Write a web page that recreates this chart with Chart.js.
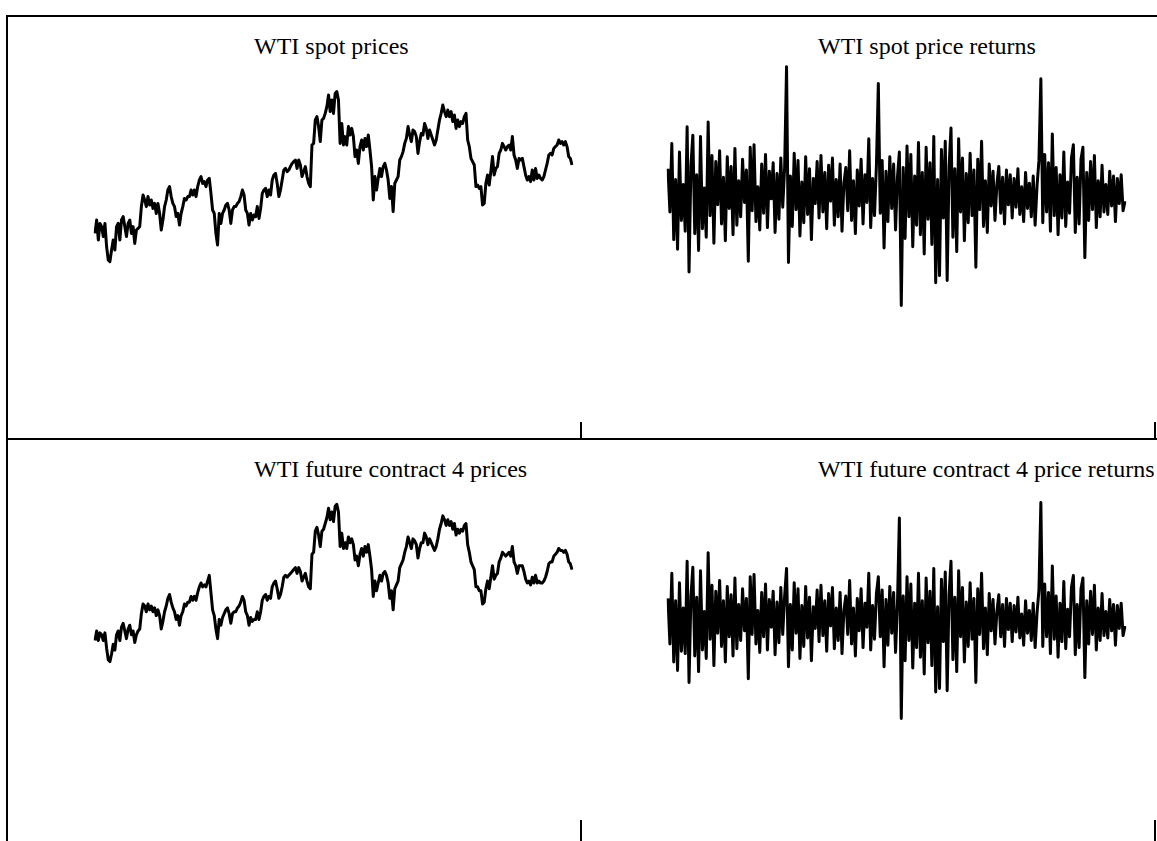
<!DOCTYPE html>
<html>
<head>
<meta charset="utf-8">
<script src="https://cdn.jsdelivr.net/npm/chart.js@4/dist/chart.umd.min.js"></script>
<style>
  html, body { margin: 0; padding: 0; background: #fff; }
  body { width: 1157px; height: 841px; position: relative; overflow: hidden; }
  canvas { position: absolute; }
  .rule { position: absolute; background: #000; }
  .ttl { position: absolute; font-family: "Liberation Serif", "Times New Roman", serif; font-size: 24px; line-height: 24px; color: #000; white-space: nowrap; }
</style>
</head>
<body>
<div class="rule" style="left:7px;top:15px;width:1150px;height:2px"></div>
<div class="rule" style="left:6px;top:15px;width:2px;height:826px"></div>
<div class="rule" style="left:7px;top:438px;width:1150px;height:2px"></div>
<div class="rule" style="left:580px;top:422px;width:2px;height:17px"></div>
<div class="rule" style="left:1154px;top:422px;width:2px;height:17px"></div>
<div class="rule" style="left:580px;top:820px;width:2px;height:21px"></div>
<div class="rule" style="left:1154px;top:820px;width:2px;height:21px"></div>

<div class="ttl" id="t1" style="left:254px;top:34px"></div>
<div class="ttl" id="t2" style="left:818px;top:34px"></div>
<div class="ttl" id="t3" style="left:254px;top:457px"></div>
<div class="ttl" id="t4" style="left:818px;top:457px"></div>

<canvas id="c1" width="572" height="420" style="left:8px;top:17px"></canvas>
<canvas id="c2" width="576" height="420" style="left:581px;top:17px"></canvas>
<canvas id="c3" width="572" height="401" style="left:8px;top:440px"></canvas>
<canvas id="c4" width="576" height="401" style="left:581px;top:440px"></canvas>

<script>
const titles = ["WTI spot prices", "WTI spot price returns", "WTI future contract 4 prices", "WTI future contract 4 price returns"];

const spotPrices = [
33.3, 40, 30, 38.3, 36.7, 31.7, 38.3, 26.7, 20, 19.2,
25, 30, 25, 36.7, 38.3, 30, 40, 41.7, 36.7, 31.7,
38.3, 40, 33.3, 36.7, 28.3, 35, 35.8, 36.7, 46.7, 52.5,
50, 46.7, 51.7, 47.5, 50, 45.8, 48.3, 43.3, 48.3, 43.3,
35, 40, 46.7, 50, 55, 56.7, 51.7, 48.3, 46.7, 41.7,
43.3, 37.5, 43.3, 46.7, 50.8, 50, 51.7, 51.7, 55, 52.5,
55, 51.7, 56.7, 60, 61.7, 58.3, 59.2, 56.7, 60, 60.8,
53.3, 45, 43.3, 33.3, 27.5, 43.3, 38.3, 43.3, 45, 47.5,
48.3, 45, 38.3, 45, 46.7, 46.7, 48.3, 49.2, 51.7, 55,
52.5, 45, 43.3, 37.5, 43.3, 40, 42.5, 41.7, 46.7, 40.8,
45.8, 53.3, 55, 55.8, 51.7, 55, 52.5, 60, 62.5, 63.3,
58.3, 51.7, 55, 60, 65, 65.8, 64.2, 65, 66.7, 68.3,
69.2, 70, 65.8, 70, 67.5, 61.7, 64.2, 66.7, 61.7, 58.3,
56.7,
77.5, 78.3, 90, 91.7, 86.7, 79.2, 90, 90.8, 93.3, 96.7,
102.5, 94.2, 100, 93.3, 103.3, 104.2, 100, 78.3, 88.3, 77.5,
81.7, 77.5, 86.7, 82.5, 85.8, 81.7, 71.7, 75, 68.3, 76.7,
80, 75, 80.8, 76.7, 82.5, 75, 66.7, 50, 61.7, 55,
60.8, 65.8, 61.7, 66.7, 68.3, 65, 60, 50.8, 56.7, 44.2,
58.3, 60, 61.7, 70, 71.7, 74.2, 78.3, 80.8, 86.7, 82.5,
79.2, 85, 84.2, 81.7, 73.3, 79.2, 83.3, 82.5, 88.3, 85.8,
80.8, 85, 82.5, 80, 77.5, 80, 85, 90, 93.3, 97.5,
94.2, 91.7, 95, 91.7, 94.2, 89.2, 92.5, 85.8, 90, 86.7,
89.2, 88.3, 91.7, 93.3, 80, 76.7, 70.8, 69.2, 67.5, 56.7,
57.5, 55.8, 56.7, 47.5, 48.3, 58.3, 62.5, 57.5, 64.2, 71.7,
62.5, 65.8, 66.7, 73.3, 75, 78.3, 76.7, 75, 76.7, 77.5,
75, 81.7, 72.5, 70, 65.8, 70.8, 70, 70.8, 66.7, 62.5,
60, 61.7, 59.2, 65, 60, 65.8, 60.8, 62.5, 60.8, 60,
61.7, 65, 68.3, 72.5, 73.3, 72.5, 75.8, 76.7, 77.5, 80,
78.3, 79.2, 77.5, 79.2, 76.7, 71.7, 70.8, 67.5
];

const spotReturns = [
2.1, -1.5, 4.2, -3.8, 1.2, -4.6, 3.5, -2.2, 0.8, -3.1,
5.6, -6.5, 2.4, 4.9, -3.3, 1.6, -4.7, 4.8, -2.9, 0.5,
-3.6, 6.0, -1.8, 3.2, -4.1, 2.7, -0.9, 3.6, -2.5, 1.4,
-3.9, 3.1, -1.2, 2.3, -3.4, 3.8, -2.6, 1.1, -1.9, 2.9,
-0.7, 2.0, -5.6, 3.9, -1.4, 4.1, -2.3, 0.6, -3.0, 2.5,
-1.6, 3.3, -2.8, 1.9, -0.4, 2.6, -3.2, 1.7, -2.1, 3.0,
-1.1, 2.2, 10.6, -5.7, 1.5, -2.7, 3.4, -1.3, 2.8, -3.5,
1.0, -2.4, 3.1, -1.7, 2.1, -3.8, 1.3, -0.8, 2.7, -2.0,
3.2, -1.5, 1.8, -2.9, 2.4, -0.6, 3.0, -2.6, 1.2, -1.9,
2.5, -3.1, 0.9, 2.2, -1.4, 3.6, -2.2, 1.1, -3.3, 2.0,
-1.0, 2.9, -2.5, 1.6, -0.7, 4.6, -2.8, 1.3, -1.8, 2.4,
9.2, -1.6, 2.8, -4.5, 1.9, -2.3, 3.1, -1.2, 2.5, -3.0,
1.4, 3.5, -9.3, 2.2, -3.7, 4.0, -1.9, 3.3, -4.4, 1.5,
-2.6, 4.3, -3.4, 1.8, -5.0, 3.9, -2.1, 2.6, -4.2, 4.8,
-7.4, 1.2, -6.8, 3.7, -2.0, 4.4, -7.2, 2.3, 5.5, -3.6,
2.1, -4.8, 4.6, -1.5, 3.0, -3.9, 1.7, -2.4, 3.4, -1.8,
2.0, -6.1, 2.9, -1.3, 4.4, -2.7, 1.1, -3.2, 2.5, -1.0,
1.9, -2.2, 0.8, 2.3, -1.6, 1.4, -2.5, 2.0, -0.9, 1.6,
-2.0, 1.3, -1.1, 2.1, -1.7, 0.6, -2.3, 1.8, -1.2, 0.9,
-1.9, 1.5, -2.6, 0.7, 2.8, 9.6, -2.4, 3.3, -1.5, 2.6,
-3.1, 5.0, -1.8, 2.2, -3.4, 1.6, -2.0, 3.5, -2.7, 1.0,
-1.6, 3.0, 4.1, -3.2, 1.4, -2.5, 2.9, 3.9, -5.3, 1.8,
-2.2, 2.7, -1.3, 3.2, -2.8, 1.1, -1.9, 2.4, -1.5, 0.8,
-1.7, 1.9, -1.0, 1.5, -2.3, 1.3, -0.8, 1.6, -1.4, -0.6
];

const futurePrices = [
31, 36, 31, 35, 34, 31, 35, 27, 21, 20,
24, 29, 26, 34, 36, 31, 38, 40, 36, 32,
37, 39, 34, 36, 30, 34, 36, 37, 45, 50,
49, 46, 50, 47, 49, 46, 48, 44, 47, 44,
37, 41, 46, 49, 53, 55, 51, 48, 46, 42,
44, 39, 44, 46, 50, 49, 51, 51, 54, 52,
54, 52, 56, 59, 61, 59, 60, 59, 62, 65,
56, 47, 44, 37, 32, 42, 39, 43, 45, 47,
48, 45, 40, 45, 46, 46, 48, 49, 51, 54,
52, 46, 44, 39, 43, 41, 42, 42, 46, 42,
46, 52, 54, 55, 52, 54, 53, 59, 61, 62,
58, 53, 55, 59, 64, 65, 64, 65, 66, 67,
68, 69, 66, 69, 67, 62, 64, 66, 62, 59,
58,
76, 77, 88, 90, 86, 80, 88, 89, 92, 95,
100, 94, 98, 93, 101, 102, 98, 80, 87, 79,
82, 79, 85, 82, 84, 81, 73, 75, 70, 76,
79, 75, 80, 77, 81, 75, 68, 54, 62, 57,
61, 65, 62, 66, 67, 65, 61, 53, 57, 47,
58, 60, 62, 69, 71, 73, 77, 80, 85, 82,
79, 84, 83, 81, 74, 79, 82, 82, 87, 85,
81, 84, 82, 80, 78, 80, 84, 89, 92, 96,
94, 91, 94, 91, 93, 89, 92, 86, 89, 87,
89, 88, 91, 92, 81, 77, 72, 70, 68, 59,
59, 57, 57, 50, 51, 58, 62, 58, 64, 70,
63, 65, 66, 72, 74, 77, 76, 75, 76, 77,
75, 80, 72, 70, 66, 70, 70, 70, 67, 63,
61, 62, 60, 64, 61, 65, 61, 62, 61, 61,
62, 64, 67, 71, 72, 72, 75, 76, 77, 79,
78, 78, 77, 78, 76, 72, 71, 68
];

const futureReturns = [
1.8, -2.0, 3.9, -3.5, 1.6, -4.2, 3.1, -2.6, 1.0, -2.8,
4.9, -5.2, 2.0, 4.4, -3.0, 1.9, -4.3, 4.1, -2.5, 0.7,
-3.2, 5.6, -1.6, 2.9, -3.8, 2.4, -1.1, 3.3, -2.2, 1.6,
-3.5, 2.8, -1.4, 2.1, -3.0, 3.5, -2.4, 1.3, -1.7, 2.6,
-0.9, 1.8, -4.9, 3.6, -1.2, 3.8, -2.0, 0.8, -2.7, 2.3,
-1.4, 3.0, -2.5, 1.7, -0.6, 2.4, -2.9, 1.5, -1.9, 2.7,
-1.2, 2.0, 4.3, -3.9, 1.3, -2.5, 3.1, -1.1, 2.6, -3.2,
1.2, -2.2, 2.8, -1.5, 1.9, -3.4, 1.1, -0.7, 2.5, -1.8,
2.9, -1.3, 1.6, -2.6, 2.2, -0.5, 2.7, -2.4, 1.0, -1.7,
2.3, -2.8, 0.8, 2.0, -1.2, 3.3, -2.0, 1.0, -3.0, 1.8,
-0.9, 2.6, -2.3, 1.4, -0.6, 3.9, -2.5, 1.2, -1.6, 2.2,
3.6, -1.4, 2.5, -3.9, 1.7, -2.1, 2.8, -1.1, 2.3, -2.7,
1.3, 8.5, -8.2, 2.0, -3.4, 3.6, -1.7, 3.0, -4.0, 1.4,
-2.3, 3.9, -3.1, 1.6, -4.5, 3.5, -1.9, 2.4, -3.8, 4.3,
-6.0, 1.1, -5.7, 3.4, -1.8, 4.0, -5.9, 2.1, 4.9, -3.3,
1.9, -4.3, 4.1, -1.4, 2.7, -3.5, 1.5, -2.2, 3.1, -1.6,
1.8, -5.2, 2.6, -1.2, 3.9, -2.4, 1.0, -2.9, 2.2, -0.9,
1.7, -2.0, 0.7, 2.1, -1.4, 1.3, -2.2, 1.8, -0.8, 1.4,
-1.8, 1.2, -1.0, 1.9, -1.5, 0.5, -2.1, 1.6, -1.1, 0.8,
-1.7, 1.4, -2.3, 0.6, 2.5, 9.8, -2.2, 3.0, -1.4, 2.3,
-2.8, 4.5, -1.6, 2.0, -3.1, 1.4, -1.8, 3.2, -2.4, 0.9,
-1.4, 2.7, 3.7, -2.9, 1.3, -2.3, 2.6, 3.5, -4.8, 1.6,
-2.0, 2.4, -1.2, 2.9, -2.5, 1.0, -1.7, 2.2, -1.3, 0.7,
-1.5, 1.7, -0.9, 1.3, -2.1, 1.2, -0.7, 1.4, -1.3, -0.5
];

["t1","t2","t3","t4"].forEach((id, i) => { document.getElementById(id).textContent = titles[i]; });

function makeChart(id, values, yMin, yMax, pad, width) {
  const labels = values.map((_, i) => i);
  return new Chart(document.getElementById(id), {
    type: 'line',
    data: {
      labels: labels,
      datasets: [{
        data: values,
        borderColor: '#000',
        borderWidth: width,
        pointRadius: 0,
        tension: 0,
        fill: false,
        borderJoinStyle: 'round'
      }]
    },
    options: {
      responsive: false,
      animation: false,
      events: [],
      layout: { padding: pad },
      plugins: { legend: { display: false }, tooltip: { enabled: false }, title: { display: false } },
      scales: {
        x: { display: false, offset: false },
        y: { display: false, min: yMin, max: yMax }
      }
    }
  });
}

makeChart('c1', spotPrices, 0, 110, { left: 87, right: 8, top: 63, bottom: 137 }, 3);
makeChart('c2', spotReturns, -12, 12, { left: 87, right: 32, top: 33, bottom: 99 }, 3);
makeChart('c3', futurePrices, 0, 110, { left: 87, right: 8, top: 49, bottom: 141 }, 3);
makeChart('c4', futureReturns, -12, 12, { left: 87, right: 32, top: 36, bottom: 77 }, 3);
</script>
</body>
</html>
